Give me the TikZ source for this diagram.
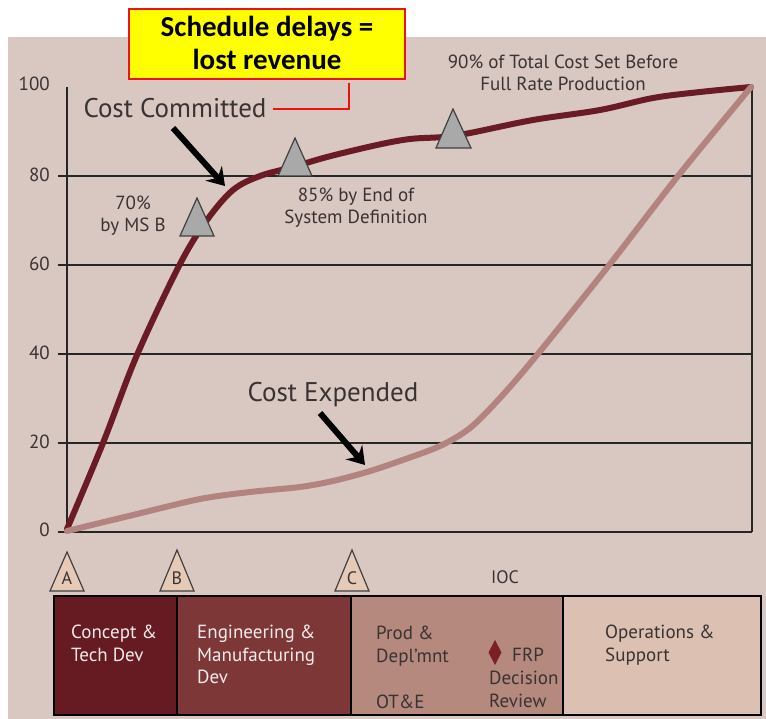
\documentclass[tikz,border=0pt]{standalone}
\usepackage{fontspec}
\setmainfont{PT Sans}
\newfontfamily\calib{Carlito}
\usetikzlibrary{arrows.meta}
\definecolor{bgc}{HTML}{D9C7C2}
\definecolor{ccurve}{HTML}{6A1B24}
\definecolor{ecurve}{HTML}{B3847F}
\definecolor{markgray}{HTML}{A9A9A9}
\definecolor{mscol}{HTML}{E6CAB7}
\definecolor{phaseA}{HTML}{661A21}
\definecolor{phaseB}{HTML}{7D3737}
\definecolor{phaseC}{HTML}{B5897D}
\definecolor{phaseD}{HTML}{DCC0B1}
\definecolor{txt}{HTML}{3A3333}
\definecolor{wtxt}{HTML}{F4ECEC}
\definecolor{yel}{HTML}{FFFF00}
\definecolor{redc}{HTML}{EE1111}
\definecolor{diam}{HTML}{7A2026}
\tikzset{
  gridline/.style={line width=1.8pt, draw=black!85},
  committed/.style={line width=6pt, draw=ccurve, line cap=round, line join=round},
  expended/.style={line width=6pt, draw=ecurve, line cap=round, line join=round},
  marker/.style={fill=markgray, draw=black!75, line width=1.2pt, line join=miter},
  milestone/.style={fill=mscol, draw=black!75, line width=1.2pt},
  phasebox/.style={draw=black, line width=1.8pt},
  axl/.style={inner sep=0pt, text=txt, font=\fontsize{19}{22}\selectfont, anchor=east},
  lbl/.style={inner sep=0pt, text=txt, font=\fontsize{19}{22}\selectfont, align=center},
  biglbl/.style={inner sep=0pt, text=txt, font=\fontsize{27}{30}\selectfont},
  ptxt/.style={inner sep=0pt, font=\fontsize{19}{22.5}\selectfont, align=left, anchor=north west},
  bigarrow/.style={line width=6pt, draw=black, -{Stealth[length=17pt,width=22pt,inset=6pt]}},
  callout/.style={draw=redc, line width=2pt}
}
\begin{document}
\begin{tikzpicture}[x=1pt,y=-1pt]
\useasboundingbox (0,0) rectangle (766,719);
\fill[bgc] (8,37) rectangle (766,719);

% grid
\foreach \yy in {176,265,354,443,532} \draw[gridline] (58,\yy) -- (752,\yy);
\draw[gridline] (67,87) -- (67,532);
\draw[gridline] (752,87) -- (752,532);

% axis labels
\node[axl] (l100) at (50,84) {100};
\node[axl] (l80) at (50,175) {80};
\node[axl] (l60) at (50,264) {60};
\node[axl] (l40) at (50,353) {40};
\node[axl] (l20) at (50,442) {20};
\node[axl] (l0) at (50,530) {0};

% curves
\draw[committed] plot[smooth, tension=0.55] coordinates {(67,529) (103,443) (137,355) (180,264) (207,220) (233,190) (260,176) (293,167) (327,157) (377,145) (410,139) (443,137) (470,133) (533,120) (600,110) (653,98) (700,92) (751,87)};
\draw[expended] plot[smooth, tension=0.5] coordinates {(67,531) (133,515) (200,499) (250,492) (300,487) (333,481) (367,472) (400,461) (440,446) (470,428) (500,398) (537,355) (610,264) (678,176) (751,87)};

% gray markers
\draw[marker] (197,198) -- (214,236) -- (180,236) -- cycle;
\draw[marker] (295,138) -- (312,176) -- (278,176) -- cycle;
\draw[marker] (453,109) -- (471,148) -- (436,148) -- cycle;

% labels
\node[biglbl] (cc) at (175,108) {Cost Committed};
\node[biglbl] (ce) at (333,395) {Cost Expended};
\node[lbl] (ms70) at (133,216) {70\%\\by MS B};
\node[lbl] (ms85) at (356,208) {85\% by End of\\System Definition};
\node[lbl] (ms90) at (563,73) {90\% of Total Cost Set Before\\Full Rate Production};

% arrows
\coordinate (ccA) at (173,128);
\coordinate (ccB) at (225,186);
\coordinate (ceA) at (320,413);
\coordinate (ceB) at (365,465);
\draw[bigarrow] (ccA) -- (ccB);
\draw[bigarrow] (ceA) -- (ceB);

% yellow box
\node[draw=redc, line width=2.2pt, fill=yel, minimum width=276pt, minimum height=70pt, inner sep=0pt] (sched) at (267,44) {};
\node[inner sep=0pt, anchor=base, font=\calib\bfseries\fontsize{29}{32}\selectfont] (s1) at (267,37) {Schedule delays =};
\node[inner sep=0pt, anchor=base, font=\calib\bfseries\fontsize{29}{32}\selectfont] (s2) at (267,70) {lost revenue};
\coordinate (cbend) at (349,109);
\coordinate (cend) at (349,83);
\draw[callout] (cc.east) ++(6,1) -- (cbend) -- (cend);

% milestones
\draw[milestone] (67,552) -- (84,591) -- (50,591) -- cycle;
\draw[milestone] (177,550) -- (194,591) -- (160,591) -- cycle;
\draw[milestone] (352,550) -- (369,591) -- (335,591) -- cycle;
\node[inner sep=0pt, text=txt, font=\fontsize{18}{20}\selectfont] (mA) at (67,578) {A};
\node[inner sep=0pt, text=txt, font=\fontsize{18}{20}\selectfont] (mB) at (177,578) {B};
\node[inner sep=0pt, text=txt, font=\fontsize{18}{20}\selectfont] (mC) at (352,578) {C};
\node[inner sep=0pt, text=txt, font=\fontsize{18}{20}\selectfont] (ioc) at (505,577) {IOC};

% phases
\draw[phasebox, fill=phaseA] (54,596) rectangle (177,715);
\draw[phasebox, fill=phaseB] (177,596) rectangle (351,715);
\draw[phasebox, fill=phaseC] (351,596) rectangle (563,715);
\draw[phasebox, fill=phaseD] (563,596) rectangle (761,715);

\node[ptxt, text=wtxt] (p1) at (71,625) {Concept \&\\Tech Dev};
\node[ptxt, text=wtxt] (p2) at (197,625) {Engineering \&\\Manufacturing\\Dev};
\node[ptxt, text=txt] (p3) at (376,626) {Prod \&\\Depl’mnt};
\node[ptxt, text=txt] (p3b) at (376,695) {OT\&E};
\fill[diam] (495,640) -- (501.5,652.5) -- (495,665) -- (488.5,652.5) -- cycle;
\node[ptxt, text=txt] (frp) at (512,648) {FRP};
\node[ptxt, text=txt] (frp2) at (489,671) {Decision\\Review};
\node[ptxt, text=txt] (p4) at (605,625) {Operations \&\\Support};
\end{tikzpicture}
\end{document}
